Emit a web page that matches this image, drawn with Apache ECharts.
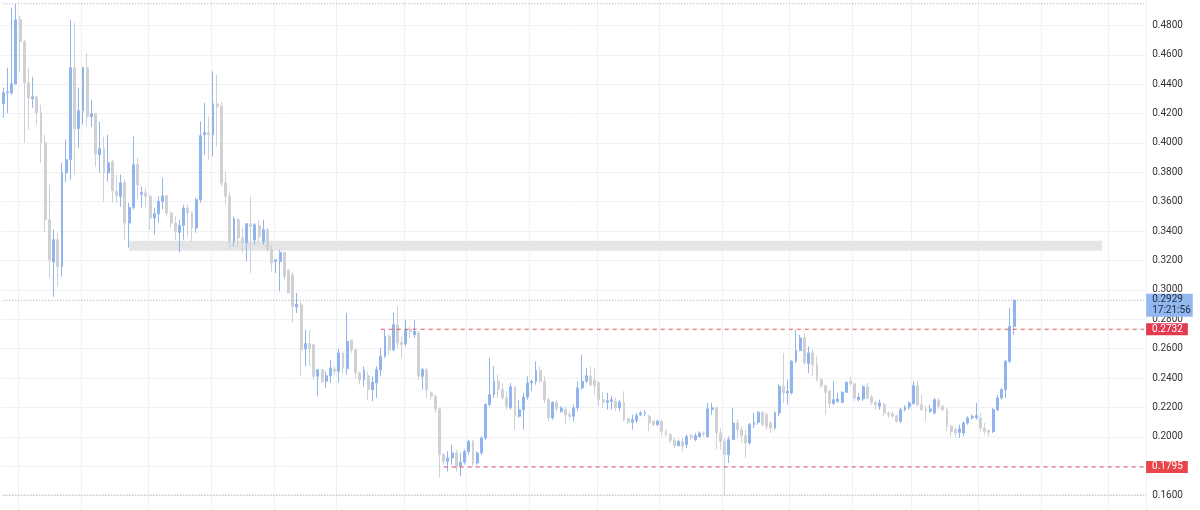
<!DOCTYPE html>
<html>
<head>
<meta charset="utf-8">
<script src="https://cdn.jsdelivr.net/npm/echarts@6/dist/echarts.min.js"></script>
<style>
html,body{margin:0;padding:0;background:#ffffff;overflow:hidden;width:1200px;height:510px;position:relative;}
#chart{position:absolute;left:0;top:-4px;width:1200px;height:529px;}
</style>
</head>
<body>
<div id="chart"></div>
<script>
// ---- Data ----
const opens = [
0.4267,0.4341,0.4341,0.4402,0.4838,0.4688,0.4410,0.4301,0.4314,0.4205,
0.4001,0.3478,0.3192,0.3342,0.3158,0.3797,0.3886,0.4512,0.4097,0.4219,
0.4512,0.4178,0.4198,0.3920,0.3961,0.3797,0.3872,0.3672,0.3636,0.3729,
0.3455,0.3561,0.3852,0.3651,0.3661,0.3636,0.3489,0.3518,0.3602,0.3641,
0.3523,0.3455,0.3391,0.3439,0.3557,0.3523,0.3421,0.3614,0.4056,0.4071,
0.4056,0.4267,0.4248,0.3729,0.3636,0.3330,0.3478,0.3353,0.3323,0.3450,
0.3341,0.3437,0.3330,0.3410,0.3273,0.3194,0.3194,0.3255,0.3133,0.3103,
0.2884,0.2899,0.2598,0.2634,0.2627,0.2412,0.2457,0.2378,0.2416,0.2462,
0.2446,0.2571,0.2464,0.2656,0.2593,0.2435,0.2389,0.2416,0.2321,0.2367,
0.2457,0.2548,0.2684,0.2593,0.2763,0.2643,0.2634,0.2729,0.2695,0.2707,
0.2412,0.2457,0.2298,0.2275,0.2190,0.1879,0.1833,0.1856,0.1890,0.1799,
0.1827,0.1901,0.1969,0.1822,0.1890,0.1992,0.2219,0.2287,0.2378,0.2321,
0.2265,0.2197,0.2340,0.2140,0.2185,0.2271,0.2367,0.2378,0.2452,0.2378,
0.2253,0.2129,0.2235,0.2174,0.2185,0.2151,0.2140,0.2197,0.2333,0.2378,
0.2412,0.2384,0.2367,0.2253,0.2235,0.2240,0.2242,0.2197,0.2235,0.2122,
0.2099,0.2112,0.2151,0.2160,0.2140,0.2106,0.2083,0.2106,0.2037,0.2015,
0.1976,0.1940,0.1969,0.1947,0.2008,0.1981,0.2003,0.2026,0.2003,0.2185,
0.2197,0.2026,0.1969,0.1879,0.1981,0.2094,0.2049,0.2008,0.1958,0.2083,
0.2099,0.2167,0.2151,0.2094,0.2060,0.2163,0.2344,0.2299,0.2299,0.2514,
0.2588,0.2673,0.2498,0.2571,0.2491,0.2389,0.2348,0.2310,0.2226,0.2242,
0.2235,0.2303,0.2378,0.2362,0.2253,0.2258,0.2340,0.2271,0.2235,0.2208,
0.2219,0.2163,0.2157,0.2144,0.2106,0.2185,0.2203,0.2226,0.2348,0.2219,
0.2190,0.2174,0.2163,0.2248,0.2208,0.2185,0.2072,0.2049,0.2031,0.2026,
0.2094,0.2129,0.2129,0.2129,0.2060,0.2044,0.2037,0.2185,0.2265,0.2321,
0.2514,0.2752
];
const closes = [
0.4341,0.4348,0.4402,0.4838,0.4688,0.4410,0.4307,0.4314,0.4205,0.4001,
0.3478,0.3205,0.3342,0.3158,0.3797,0.3886,0.4512,0.4097,0.4219,0.4512,
0.4178,0.4198,0.3927,0.3961,0.3797,0.3865,0.3675,0.3642,0.3729,0.3455,
0.3561,0.3852,0.3716,0.3662,0.3634,0.3489,0.3518,0.3602,0.3641,0.3523,
0.3455,0.3398,0.3439,0.3557,0.3523,0.3421,0.3614,0.4049,0.4071,0.4056,
0.4267,0.4248,0.3729,0.3636,0.3330,0.3482,0.3353,0.3323,0.3450,0.3432,
0.3443,0.3364,0.3410,0.3273,0.3183,0.3205,0.3255,0.3092,0.2979,0.2888,
0.2904,0.2593,0.2634,0.2600,0.2412,0.2457,0.2378,0.2416,0.2469,0.2446,
0.2571,0.2469,0.2650,0.2593,0.2435,0.2389,0.2452,0.2321,0.2371,0.2457,
0.2548,0.2684,0.2593,0.2763,0.2639,0.2627,0.2729,0.2716,0.2718,0.2412,
0.2457,0.2318,0.2275,0.2190,0.1879,0.1833,0.1856,0.1890,0.1788,0.1827,
0.1901,0.1969,0.1822,0.1890,0.1992,0.2219,0.2287,0.2378,0.2321,0.2265,
0.2208,0.2340,0.2140,0.2185,0.2271,0.2367,0.2378,0.2452,0.2378,0.2253,
0.2129,0.2235,0.2190,0.2197,0.2151,0.2140,0.2197,0.2333,0.2378,0.2416,
0.2355,0.2350,0.2253,0.2235,0.2246,0.2253,0.2197,0.2235,0.2117,0.2099,
0.2117,0.2144,0.2163,0.2165,0.2094,0.2083,0.2106,0.2037,0.2015,0.1976,
0.1940,0.1969,0.1935,0.2003,0.1992,0.2008,0.2026,0.2020,0.2190,0.2197,
0.2026,0.1969,0.1879,0.1981,0.2094,0.2049,0.2008,0.1958,0.2083,0.2099,
0.2167,0.2083,0.2072,0.2060,0.2163,0.2344,0.2299,0.2310,0.2514,0.2588,
0.2673,0.2503,0.2571,0.2491,0.2389,0.2348,0.2303,0.2226,0.2253,0.2258,
0.2303,0.2371,0.2362,0.2265,0.2271,0.2340,0.2265,0.2235,0.2219,0.2231,
0.2163,0.2151,0.2140,0.2106,0.2185,0.2203,0.2231,0.2348,0.2219,0.2185,
0.2174,0.2190,0.2253,0.2208,0.2185,0.2072,0.2037,0.2026,0.2054,0.2094,
0.2129,0.2140,0.2144,0.2060,0.2037,0.2031,0.2185,0.2265,0.2321,0.2514,
0.2752,0.2929
];
const lows = [
0.4171,0.4205,0.4327,0.4396,0.4484,0.4001,0.4090,0.4239,0.4124,0.3865,
0.3396,0.3083,0.2954,0.3022,0.3090,0.3736,0.3750,0.3784,0.3967,0.4124,
0.4110,0.4110,0.3838,0.3797,0.3600,0.3736,0.3593,0.3593,0.3566,0.3341,
0.3287,0.3546,0.3614,0.3559,0.3566,0.3410,0.3376,0.3457,0.3546,0.3498,
0.3423,0.3341,0.3255,0.3341,0.3364,0.3330,0.3389,0.3593,0.3920,0.3886,
0.3908,0.3976,0.3704,0.3580,0.3273,0.3296,0.3296,0.3253,0.3194,0.3115,
0.3307,0.3319,0.3307,0.3262,0.3126,0.3115,0.2990,0.3069,0.2979,0.2777,
0.2843,0.2412,0.2479,0.2480,0.2389,0.2276,0.2366,0.2333,0.2367,0.2420,
0.2371,0.2435,0.2423,0.2571,0.2401,0.2355,0.2344,0.2253,0.2242,0.2265,
0.2412,0.2537,0.2559,0.2582,0.2605,0.2537,0.2616,0.2673,0.2673,0.2389,
0.2321,0.2265,0.2250,0.2163,0.1720,0.1811,0.1765,0.1811,0.1765,0.1731,
0.1811,0.1879,0.1799,0.1810,0.1879,0.1981,0.2208,0.2265,0.2265,0.2253,
0.2185,0.2185,0.2049,0.2129,0.2049,0.2253,0.2310,0.2355,0.2367,0.2231,
0.2106,0.2117,0.2174,0.2163,0.2083,0.2117,0.2106,0.2174,0.2321,0.2367,
0.2344,0.2287,0.2208,0.2197,0.2185,0.2185,0.2174,0.2174,0.2106,0.2083,
0.2049,0.2094,0.2140,0.2140,0.2037,0.2072,0.2072,0.2003,0.2003,0.1958,
0.1924,0.1935,0.1901,0.1924,0.1981,0.1970,0.1992,0.2003,0.1992,0.2150,
0.1913,0.1913,0.1603,0.1822,0.1981,0.1992,0.1958,0.1856,0.1947,0.2060,
0.2083,0.2072,0.2049,0.2026,0.2049,0.2140,0.2231,0.2219,0.2287,0.2503,
0.2582,0.2491,0.2435,0.2412,0.2378,0.2333,0.2151,0.2197,0.2219,0.2231,
0.2226,0.2299,0.2348,0.2242,0.2242,0.2242,0.2253,0.2219,0.2185,0.2185,
0.2140,0.2129,0.2129,0.2094,0.2094,0.2174,0.2185,0.2219,0.2208,0.2174,
0.2106,0.2163,0.2151,0.2185,0.2174,0.2037,0.2003,0.2003,0.1992,0.2003,
0.2083,0.2117,0.2117,0.2037,0.2015,0.2003,0.2026,0.2174,0.2253,0.2265,
0.2503,0.2695
];
const highs = [
0.4376,0.4512,0.4920,0.4947,0.4865,0.4700,0.4512,0.4450,0.4320,0.4260,
0.4056,0.3716,0.3410,0.3389,0.3865,0.4022,0.4838,0.4817,0.4376,0.4518,
0.4613,0.4294,0.4198,0.4144,0.4042,0.4056,0.3886,0.3784,0.3784,0.3750,
0.3593,0.4044,0.3900,0.3704,0.3696,0.3648,0.3559,0.3636,0.3763,0.3641,
0.3534,0.3500,0.3478,0.3580,0.3580,0.3534,0.3627,0.4146,0.4273,0.4180,
0.4487,0.4464,0.4282,0.3806,0.3670,0.3500,0.3491,0.3423,0.3455,0.3636,
0.3455,0.3478,0.3478,0.3421,0.3307,0.3205,0.3273,0.3255,0.3142,0.3126,
0.2979,0.2921,0.2729,0.2729,0.2627,0.2457,0.2457,0.2446,0.2525,0.2480,
0.2598,0.2582,0.2843,0.2661,0.2593,0.2446,0.2480,0.2446,0.2412,0.2480,
0.2604,0.2729,0.2695,0.2843,0.2888,0.2684,0.2797,0.2752,0.2797,0.2718,
0.2469,0.2469,0.2310,0.2287,0.2197,0.1890,0.1901,0.1947,0.1913,0.1890,
0.1913,0.1981,0.1981,0.1901,0.2003,0.2230,0.2537,0.2480,0.2423,0.2367,
0.2310,0.2367,0.2344,0.2253,0.2299,0.2412,0.2389,0.2514,0.2480,0.2412,
0.2265,0.2242,0.2253,0.2208,0.2208,0.2174,0.2219,0.2378,0.2559,0.2469,
0.2480,0.2469,0.2378,0.2310,0.2299,0.2280,0.2265,0.2253,0.2310,0.2129,
0.2151,0.2163,0.2174,0.2180,0.2151,0.2117,0.2117,0.2117,0.2049,0.2026,
0.1992,0.1981,0.1992,0.2015,0.2020,0.2026,0.2037,0.2037,0.2231,0.2231,
0.2208,0.2060,0.1992,0.2003,0.2197,0.2117,0.2072,0.2049,0.2094,0.2163,
0.2174,0.2174,0.2163,0.2106,0.2174,0.2355,0.2571,0.2389,0.2525,0.2729,
0.2695,0.2707,0.2616,0.2593,0.2548,0.2401,0.2355,0.2321,0.2378,0.2299,
0.2310,0.2378,0.2412,0.2367,0.2299,0.2350,0.2367,0.2287,0.2242,0.2253,
0.2231,0.2174,0.2174,0.2151,0.2197,0.2215,0.2242,0.2378,0.2378,0.2287,
0.2208,0.2219,0.2265,0.2265,0.2219,0.2197,0.2083,0.2060,0.2083,0.2106,
0.2140,0.2151,0.2231,0.2163,0.2094,0.2049,0.2197,0.2287,0.2333,0.2525,
0.2877,0.2933
];

// Horizontal levels / annotations
const resistanceLevel = 0.2732, resistanceStart = 90;
const supportLevel = 0.1795, supportStart = 105;
const bandHigh = 0.3335, bandLow = 0.3267, bandStart = 30, bandEnd = 262;
const countdownText = '17:21:56';

// Axis ticks
const yMin = 0.14, yMax = 0.50, yStep = 0.02;
const totalSlots = 273;            // candles + empty right margin
const vGridIdx = [4,19,35,50,65,80,96,111,126,142,157,172,188,203,217,233,248,264];

// ---- Build ----
const categories = [];
for (let i = 0; i < totalSlots; i++) categories.push(String(i));
const candleData = opens.map((o, i) => [o, closes[i], lows[i], highs[i]]);
const hiMax = Math.max.apply(null, highs);
const loMin = Math.min.apply(null, lows);
const lastClose = closes[closes.length - 1];
const lastSlot = totalSlots - 1;
const vGridSet = new Set(vGridIdx);

const FONT = 'Roboto, "Noto Sans", sans-serif';
const UP = '#90b5ee', DOWN = '#d0d1d5';
const GRID = {left: 1.2, right: 53.8, top: 0, bottom: 0};

function levelSeries(fromIdx, level, lineStyle, endLabel, z) {
  return {
    type: 'line', data: [[fromIdx, level], [lastSlot, level]],
    showSymbol: false, symbol: 'none', silent: true, z: z,
    lineStyle: lineStyle,
    endLabel: endLabel || {show: false},
    emphasis: {disabled: true}
  };
}
const dotted = {type: [1, 2], color: '#9ea3ad', width: 1};
const redDash = (c) => ({type: [4, 4], color: c, width: 1});
const tag = (txt, bg) => ({
  show: true, distance: 2, formatter: txt,
  backgroundColor: bg, color: '#ffffff', fontFamily: FONT, fontSize: 10,
  lineHeight: 11, padding: [1, 5, 0, 6], align: 'left', verticalAlign: 'middle'
});

const chart = echarts.init(document.getElementById('chart'), null, {renderer: 'canvas'});
const option = {
  animation: false,
  backgroundColor: '#ffffff',
  grid: GRID,
  xAxis: {
    type: 'category', data: categories, boundaryGap: true,
    axisLine: {show: false}, axisTick: {show: false}, axisLabel: {show: false},
    splitLine: {show: true, interval: (i) => vGridSet.has(i), lineStyle: {color: '#eff1f4', width: 1}}
  },
  yAxis: {
    type: 'value', position: 'right', min: yMin, max: yMax, interval: yStep,
    axisLine: {show: false}, axisTick: {show: false},
    axisLabel: {
      margin: 6, color: '#333333', fontSize: 10, fontFamily: FONT,
      formatter: (v) => (v < yMin + yStep / 2 || v > yMax - yStep / 2) ? '' : v.toFixed(4)
    },
    splitLine: {show: true, lineStyle: {color: '#eff1f4', width: 1}}
  },
  series: [
    {
      type: 'candlestick',
      data: candleData,
      barWidth: 2.4, z: 2,
      itemStyle: {color: UP, color0: DOWN, borderColor: UP, borderColor0: DOWN, borderWidth: 1},
      markArea: {
        silent: true,
        itemStyle: {color: '#e5e5e8'},
        data: [[{coord: [bandStart, bandHigh]}, {coord: [bandEnd, bandLow]}]]
      }
    },
    levelSeries(0, hiMax, dotted, null, 3),
    levelSeries(0, loMin, dotted, null, 3),
    levelSeries(0, lastClose, dotted, null, 3),
    levelSeries(resistanceStart, resistanceLevel, redDash('#e5505e'), tag(resistanceLevel.toFixed(4), '#e33a52'), 4),
    levelSeries(supportStart, supportLevel, redDash('#e8505a'), tag(supportLevel.toFixed(4), '#e8464b'), 4)
  ]
};
chart.setOption(option);

// Last-price tag placed through the library's y scale
const yPix = chart.convertToPixel({yAxisIndex: 0}, lastClose);
const xEdge = chart.getWidth() - GRID.right;
chart.setOption({
  graphic: [{
    type: 'text', x: xEdge, y: yPix - 6.6, z: 100,
    style: {
      text: lastClose.toFixed(4) + '\n' + countdownText,
      fill: '#1d2a40', font: '10px ' + FONT,
      backgroundColor: '#93b7ef', padding: [1, 2, 1, 6], lineHeight: 10.5,
      verticalAlign: 'top', align: 'left'
    }
  }]
});
</script>
</body>
</html>
